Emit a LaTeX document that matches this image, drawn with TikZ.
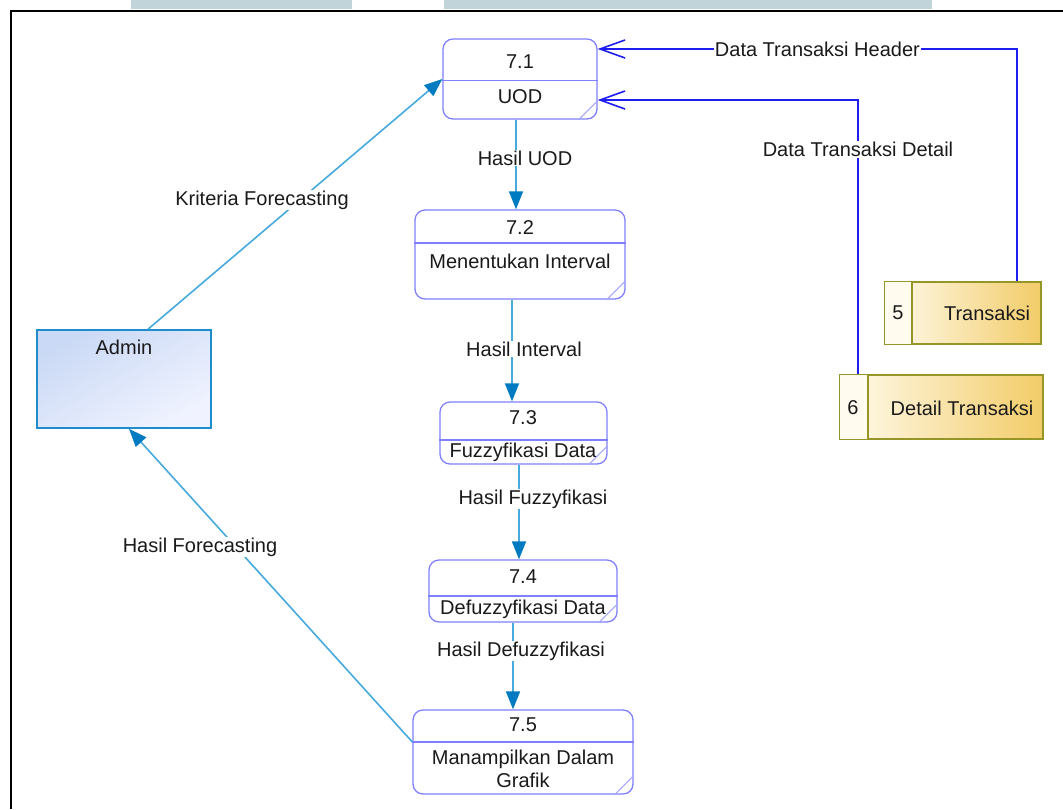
\documentclass[tikz,border=0pt]{standalone}
\usepackage{fontspec}
\setmainfont{Liberation Sans}
\usetikzlibrary{arrows.meta,calc}

\definecolor{ink}{RGB}{26,26,26}
\definecolor{procc}{RGB}{128,128,255}
\definecolor{flowc}{RGB}{70,170,222}
\definecolor{tipc}{RGB}{0,122,192}
\definecolor{storeline}{RGB}{30,30,240}
\definecolor{entline}{RGB}{30,140,205}
\definecolor{entA}{RGB}{202,217,245}
\definecolor{entB}{RGB}{240,243,255}
\definecolor{dsline}{RGB}{150,150,40}
\definecolor{dsA}{RGB}{255,251,238}
\definecolor{dsB}{RGB}{242,204,104}
\definecolor{strip}{RGB}{192,212,218}

\tikzset{
  txt/.style={font=\fontsize{20}{23}\selectfont, text=ink, inner sep=1pt},
  proc/.style={draw=procc, line width=1.3pt, rounded corners=10pt, fill=white, inner sep=0pt},
  procline/.style={draw=procc, line width=1.3pt},
  corner/.style={draw=procc!70, line width=1pt},
  flow/.style={draw=flowc, line width=1.6pt, -{Triangle[length=18pt,width=14pt,color=tipc]}},
  readflow/.style={draw=storeline, line width=1.6pt, -{Straight Barb[length=25pt,width=18pt,line width=1.6pt]}},
  lbl/.style={txt, fill=white},
  entity/.style={draw=entline, line width=1.6pt, top color=entA, bottom color=entB, shading angle=30, inner sep=0pt},
  store/.style={draw=dsline, line width=1.6pt, left color=dsA, right color=dsB, inner sep=0pt},
}

\begin{document}
\begin{tikzpicture}[x=1pt,y=-1pt]
\useasboundingbox (0,0) rectangle (1063,809);

% window strip and frame
\fill[strip] (131,0) rectangle (352,9);
\fill[strip] (444,0) rectangle (932,9);
\draw[black, line width=2pt] (11,809) -- (11,10.5) -- (1063,10.5);

% processes
\node[proc, minimum width=154pt, minimum height=80pt] (p1) at (520,79) {};
\node[proc, minimum width=210pt, minimum height=89pt] (p2) at (520,254.5) {};
\node[proc, minimum width=167pt, minimum height=62pt] (p3) at (523.5,433) {};
\node[proc, minimum width=188pt, minimum height=62pt] (p4) at (523,591) {};
\node[proc, minimum width=220pt, minimum height=84pt] (p5) at (523,752) {};

\draw[procline] (p1.west |- 0,80.5) -- (p1.east |- 0,80.5);
\draw[procline] (p2.west |- 0,243) -- (p2.east |- 0,243);
\draw[procline] (p3.west |- 0,440) -- (p3.east |- 0,440);
\draw[procline] (p4.west |- 0,596) -- (p4.east |- 0,596);
\draw[procline] (p5.west |- 0,742) -- (p5.east |- 0,742);

\foreach \p in {p1,p2,p3,p4,p5}
  \draw[corner] ([xshift=-19pt]\p.south east) -- ([yshift=19pt]\p.south east);

\node[txt] (p1n) at (520,62) {7.1};
\node[txt] (p1t) at (520,97) {UOD};
\node[txt] (p2n) at (520,228) {7.2};
\node[txt] (p2t) at (520,261) {Menentukan Interval};
\node[txt] (p3n) at (523,418) {7.3};
\node[txt] (p3t) at (523,452) {Fuzzyfikasi Data};
\node[txt] (p4n) at (523,577) {7.4};
\node[txt] (p4t) at (523,609) {Defuzzyfikasi Data};
\node[txt] (p5n) at (523,725) {7.5};
\node[txt, align=center] (p5t) at (523,769) {Manampilkan Dalam\\Grafik};

% external entity
\node[entity, minimum width=174pt, minimum height=98pt] (admin) at (124,379) {};
\node[txt] (admint) at (124,347) {Admin};

% data stores
\node[store, minimum width=156pt, minimum height=62pt] (ds5) at (963,313) {};
\fill[dsA] ([xshift=0.8pt,yshift=-0.8pt]ds5.north west) rectangle ([yshift=0.8pt]ds5.south west -| 912,0);
\draw[dsline, line width=1.6pt] (ds5.north -| 912,0) -- (ds5.south -| 912,0);
\node[txt] (ds5n) at (898,313) {5};
\node[txt] (ds5t) at (987,313) {Transaksi};

\node[store, minimum width=203pt, minimum height=64pt] (ds6) at (941.5,407) {};
\fill[dsA] ([xshift=0.8pt,yshift=-0.8pt]ds6.north west) rectangle ([yshift=0.8pt]ds6.south west -| 868,0);
\draw[dsline, line width=1.6pt] (ds6.north -| 868,0) -- (ds6.south -| 868,0);
\node[txt] (ds6n) at (853,408) {6};
\node[txt] (ds6t) at (962,408) {Detail Transaksi};

% flows between processes
\draw[flow] ([xshift=-4pt]p1.south) -- ([xshift=-4pt]p1.south |- p2.north);
\draw[flow] ([xshift=-8pt]p2.south) -- ([xshift=-8pt]p2.south |- p3.north);
\draw[flow] ([xshift=-4.5pt]p3.south) -- ([xshift=-4.5pt]p3.south |- p4.north);
\draw[flow] ([xshift=-10pt]p4.south) -- ([xshift=-10pt]p4.south |- p5.north);
\node[lbl] (l1) at (525,158) {Hasil UOD};
\node[lbl] (l2) at (524,349) {Hasil Interval};
\node[lbl] (l3) at (533,499) {Hasil Fuzzyfikasi};
\node[lbl] (l4) at (521,651) {Hasil Defuzzyfikasi};

% flows with the entity
\draw[flow] ([xshift=24pt]admin.north) -- (p1.west);
\draw[flow] ([yshift=10pt]p5.west) -- ([xshift=5pt]admin.south);
\node[lbl] (lk) at (262,200) {Kriteria Forecasting};
\node[lbl] (lh) at (200,547) {Hasil Forecasting};

% flows from the data stores
\draw[readflow] ([xshift=54pt]ds5.north) |- ([yshift=30pt]p1.east)
  node[lbl, pos=0.738] (lth) {Data Transaksi Header};
\draw[readflow] ([xshift=-83.5pt]ds6.north) |- ([yshift=-21pt]p1.east)
  node[lbl, pos=0.41] (ltd) {Data Transaksi Detail};
\end{tikzpicture}
\end{document}
